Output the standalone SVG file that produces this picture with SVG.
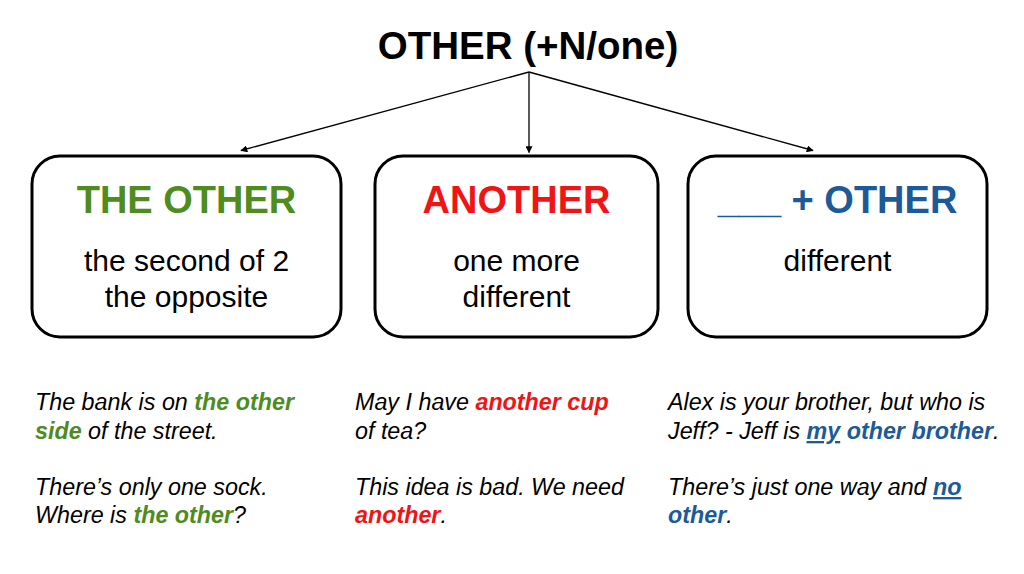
<svg xmlns="http://www.w3.org/2000/svg" width="1024" height="574" viewBox="0 0 1024 574">
<style>
.t{font-family:"Liberation Sans",Arial,sans-serif}
.title{font-size:38.5px;font-weight:bold;fill:#000}
.head{font-size:38px;font-weight:bold}
.body{font-size:30px;fill:#000}
.ex{font-size:23.3px;font-style:italic;fill:#000}
.b{font-weight:bold}
.g{fill:#4e8c1e}
.r{fill:#f01414}
.bl{fill:#1c5a98}
.u{text-decoration:underline}
.box{fill:#fff;stroke:#000;stroke-width:3}
.con{stroke:#000;stroke-width:1.3;fill:none;marker-end:url(#ah)}
</style>
<defs>
<marker id="ah" viewBox="0 0 10 10" refX="9" refY="5" markerWidth="7" markerHeight="7" markerUnits="userSpaceOnUse" orient="auto">
<path d="M0,0 L10,5 L0,10 Z" fill="#000"/>
</marker>
</defs>
<rect width="1024" height="574" fill="#fff"/>
<g id="title">
<text class="t title" x="528" y="59" text-anchor="middle">OTHER (+N/one)</text>
</g>
<g id="connectors">
<line class="con" x1="529" y1="72" x2="241" y2="150.5"/>
<line class="con" x1="529" y1="72" x2="529" y2="152.5"/>
<line class="con" x1="529" y1="72" x2="813" y2="150.5"/>
</g>
<g id="node-the-other">
<rect class="box" x="32" y="156" width="309" height="181" rx="28"/>
<text class="t head g" x="186.5" y="213" text-anchor="middle">THE OTHER</text>
<text class="t body" x="186.5" y="271" text-anchor="middle">the second of 2</text>
<text class="t body" x="186.5" y="307" text-anchor="middle">the opposite</text>
</g>
<g id="node-another">
<rect class="box" x="375" y="156" width="283" height="181" rx="28"/>
<text class="t head r" x="516.5" y="213" text-anchor="middle">ANOTHER</text>
<text class="t body" x="516.5" y="271" text-anchor="middle">one more</text>
<text class="t body" x="516.5" y="307" text-anchor="middle">different</text>
</g>
<g id="node-plus-other">
<rect class="box" x="688" y="156" width="299" height="181" rx="28"/>
<text class="t head bl" x="837.5" y="213" text-anchor="middle">___ + OTHER</text>
<text class="t body" x="837.5" y="271" text-anchor="middle">different</text>
</g>
<g id="examples-the-other">
<text class="t ex" x="35" y="410">The bank is on <tspan class="b g">the other</tspan></text>
<text class="t ex" x="35" y="439"><tspan class="b g">side</tspan> of the street.</text>
<text class="t ex" x="35" y="495">There’s only one sock.</text>
<text class="t ex" x="35" y="523">Where is <tspan class="b g">the other</tspan>?</text>
</g>
<g id="examples-another">
<text class="t ex" x="355" y="410">May I have <tspan class="b r">another cup</tspan></text>
<text class="t ex" x="355" y="439">of tea?</text>
<text class="t ex" x="355" y="495">This idea is bad. We need</text>
<text class="t ex" x="355" y="523"><tspan class="b r">another</tspan>.</text>
</g>
<g id="examples-plus-other">
<text class="t ex" x="668" y="410">Alex is your brother, but who is</text>
<text class="t ex" x="668" y="439">Jeff? - Jeff is <tspan class="b bl u">my</tspan> <tspan class="b bl">other brother</tspan>.</text>
<text class="t ex" x="668" y="495">There’s just one way and <tspan class="b bl u">no</tspan></text>
<text class="t ex" x="668" y="523"><tspan class="b bl">other</tspan>.</text>
</g>
</svg>
